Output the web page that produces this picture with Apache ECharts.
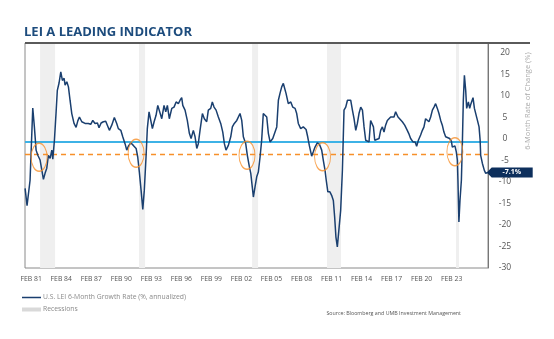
<!DOCTYPE html>
<html><head><meta charset="utf-8">
<script src="https://cdn.jsdelivr.net/npm/echarts@6/dist/echarts.min.js"></script>
<style>html,body{margin:0;padding:0;background:#fff}#c{width:554px;height:339px}</style>
</head><body><div id="c"></div>
<script>
// Decimal-year dates and U.S. LEI 6-month annualized growth (%)
const dates = [1980.11,1980.29,1980.57,1980.82,1980.97,1981.13,1981.29,1981.50,1981.66,1981.81,1981.96,1982.12,1982.27,1982.43,1982.59,1982.68,1982.83,1982.98,1983.10,1983.26,1983.42,1983.57,1983.73,1983.82,1983.98,1984.13,1984.28,1984.44,1984.65,1984.84,1985.00,1985.15,1985.37,1985.67,1985.98,1986.20,1986.39,1986.60,1986.82,1986.97,1987.16,1987.37,1987.59,1987.74,1987.93,1988.15,1988.39,1988.61,1988.76,1988.99,1989.17,1989.38,1989.54,1989.69,1989.91,1990.15,1990.41,1990.56,1990.71,1990.87,1991.03,1991.17,1991.33,1991.45,1991.61,1991.77,1991.92,1992.08,1992.26,1992.42,1992.57,1992.79,1993.00,1993.16,1993.31,1993.49,1993.72,1993.93,1994.12,1994.33,1994.49,1994.64,1994.74,1994.95,1995.16,1995.35,1995.51,1995.72,1995.88,1996.04,1996.18,1996.34,1996.56,1996.74,1996.96,1997.11,1997.33,1997.48,1997.64,1997.83,1998.04,1998.26,1998.45,1998.60,1998.75,1998.97,1999.19,1999.34,1999.52,1999.75,1999.89,2000.05,2000.21,2000.36,2000.58,2000.73,2000.92,2001.05,2001.19,2001.29,2001.44,2001.60,2001.75,2001.91,2002.06,2002.21,2002.37,2002.53,2002.68,2002.84,2003.09,2003.23,2003.46,2003.61,2003.76,2003.92,2004.07,2004.16,2004.32,2004.53,2004.76,2004.94,2005.16,2005.31,2005.46,2005.68,2005.92,2006.18,2006.33,2006.48,2006.70,2006.85,2007.01,2007.22,2007.41,2007.63,2007.78,2007.94,2008.05,2008.20,2008.39,2008.55,2008.71,2008.83,2008.95,2009.08,2009.23,2009.39,2009.55,2009.70,2009.86,2010.02,2010.16,2010.32,2010.48,2010.63,2010.79,2010.94,2011.09,2011.25,2011.41,2011.56,2011.71,2011.87,2012.02,2012.17,2012.27,2012.43,2012.55,2012.73,2012.95,2013.10,2013.26,2013.41,2013.56,2013.72,2013.87,2014.03,2014.19,2014.34,2014.49,2014.59,2014.71,2014.89,2015.11,2015.33,2015.57,2015.70,2015.88,2016.10,2016.30,2016.44,2016.60,2016.81,2016.97,2017.12,2017.27,2017.43,2017.58,2017.74,2017.90,2018.05,2018.20,2018.36,2018.51,2018.67,2018.82,2018.97,2019.13,2019.29,2019.50,2019.66,2019.75,2019.90,2019.99,2020.12,2020.22,2020.27,2020.36,2020.46,2020.59,2020.68,2020.77,2020.87,2020.99,2021.08,2021.24,2021.36,2021.48,2021.67,2021.80,2021.92,2022.08,2022.23,2022.33,2022.38,2022.54,2022.72,2022.85,2023.03];
const leiValues = [-11.5,-15.5,-9.6,7.2,2.8,-2.6,-3.8,-4.9,-4.5,-9.4,-8.0,-6.8,-3.8,-4.5,-2.6,-4.7,-0.3,6.0,11.3,13.0,15.6,13.6,14.1,12.5,13.3,12.1,9.0,5.9,3.6,2.7,4.2,5.1,4.0,3.6,3.6,3.4,4.3,3.6,3.7,2.6,3.7,4.0,4.1,3.2,2.0,3.2,5.0,3.6,2.4,2.0,0.5,-1.1,-2.6,-1.7,-0.9,-1.5,-2.2,-4.2,-7.7,-11.9,-16.4,-11.9,-4.2,2.4,6.3,4.3,2.4,4.0,5.5,7.8,7.4,4.7,7.8,6.3,7.8,4.7,7.1,7.4,8.6,8.2,9.0,9.6,7.8,6.7,4.3,1.3,0.1,2.0,0.5,-2.2,-1.1,2.0,5.9,4.7,4.0,6.7,7.1,8.6,7.4,6.7,5.1,3.6,1.6,-1.1,-2.6,-1.5,0.5,2.8,3.6,4.3,4.3,5.9,4.3,0.5,-1.1,-3.8,-6.5,-8.0,-11.2,-13.5,-11.2,-8.8,-7.7,-4.2,-0.3,5.9,6.3,5.1,1.3,-0.7,0.1,-0.3,2.8,9.0,10.6,12.1,12.9,13.3,10.6,8.2,8.6,7.4,7.1,5.9,3.6,2.4,2.8,2.2,0.5,-1.5,-4.0,-3.0,-1.9,-0.9,-1.2,-2.6,-5.0,-7.3,-9.6,-12.3,-12.3,-13.1,-14.3,-18.1,-22.8,-25.1,-24.7,-16.6,-7.3,6.7,7.4,9.0,9.4,9.0,6.7,4.7,2.0,3.6,5.9,7.4,6.7,2.8,-0.3,0.1,-0.7,4.3,4.7,2.8,-0.3,-0.7,0.1,2.0,2.8,1.6,3.2,4.3,4.7,5.1,5.5,5.1,6.3,6.7,5.1,4.7,4.0,3.2,2.0,1.3,0.1,-0.7,-0.7,-1.7,-0.3,0.9,2.0,2.8,4.7,5.1,4.0,5.1,6.7,7.4,8.2,7.1,5.9,4.3,3.2,1.6,0.5,0.1,0.1,-0.5,-1.9,-2.2,-1.6,-3.0,-5.0,-9.6,-19.3,-14.3,-9.6,-1.1,9.0,14.8,11.3,7.1,8.6,7.1,8.2,9.6,7.1,6.7,4.3,2.8,-0.3,-3.8,-5.7,-7.3,-8.0,-7.8];
const recessionStarts = [1981.50, 1990.68, 2001.17, 2008.12, 2020.09];
const recessionEnds   = [1982.89, 1991.24, 2001.73, 2009.42, 2020.37];
const xTickLabels = ['FEB 81','FEB 84','FEB 87','FEB 90','FEB 93','FEB 96','FEB 99','FEB 02','FEB 05','FEB 08','FEB 11','FEB 14','FEB 17','FEB 20','FEB 23'];
const blueLevel = -0.7;
const orangeLevel = -3.5;
const circleDates  = [1981.41, 1990.41, 2000.70, 2007.71, 2019.99];
const circleValues = [-4.26, -3.33, -3.79, -4.14, -2.98];
const lastLabel = '-7.1%';

const chart = echarts.init(document.getElementById('c'), null, {renderer:'canvas'});
const lineName = 'U.S. LEI 6-Month Growth Rate (%, annualized)';
const FONT = 'Open Sans';
const ELLIPSE = 'path://M0,-1 C0.552,-1 1,-0.552 1,0 C1,0.552 0.552,1 0,1 C-0.552,1 -1,0.552 -1,0 C-1,-0.552 -0.552,-1 0,-1 Z';
const THIN_BAR = 'path://M0,0 L19,0 L19,1.6 L0,1.6 Z M0,-1.2 L0.001,-1.2 L0.001,-1.199 Z M0,2.8 L0.001,2.8 L0.001,2.801 Z';
const option = {
  animation: false,
  title: {text:'LEI A LEADING INDICATOR', left: 19, top: 21,
    textStyle:{fontFamily: FONT, fontSize: 13, fontWeight: 'bold', color:'#1d4c7d'}},
  grid: {left: 25, top: 43, width: 463, height: 225, show: true, borderColor:'#8a8a8a', borderWidth: 1, backgroundColor:'transparent'},
  legend: {orient:'vertical', left: 17, top: 289, itemWidth: 19, itemHeight: 4, itemGap: 5,
    textStyle:{fontFamily: FONT, fontSize: 6.8, color:'#8a8a8a', padding:[0,0,0,-3]},
    data:[{name: lineName, icon: THIN_BAR}, {name:'Recessions', icon:'rect'}]},
  xAxis: [
    {type:'value', min: 1980.1, max: 2023.06, show: false},
    {type:'value', min: -0.206, max: 15.21, position:'bottom',
      axisLine:{show:false, onZero:false}, axisTick:{show:false}, splitLine:{show:false},
      axisLabel:{customValues: xTickLabels.map((_, i) => i), formatter: v => xTickLabels[Math.round(v)] || '',
        fontFamily: FONT, fontSize: 6.8, color:'#555', margin: 8}}
  ],
  yAxis: {type:'value', position:'right', min: -30, max: 22.3, interval: 5,
    axisLine:{show:true, onZero:false, lineStyle:{color:'#777', width:1}}, axisTick:{show:false}, splitLine:{show:false},
    axisLabel:{fontFamily: FONT, fontSize: 8.5, color:'#555', align:'center', margin: 17, showMaxLabel: false}},
  series: [
    {name:'Recessions', type:'line', xAxisIndex:0, data: [], symbol:'none', itemStyle:{color:'#d9d9d9'}, lineStyle:{color:'#d9d9d9'}, z: 1,
      markArea:{silent:true, itemStyle:{color:'#efefef'},
        data: recessionStarts.map((s, i) => [{xAxis: s}, {xAxis: recessionEnds[i]}])}},
    {name: lineName, type:'line', xAxisIndex:0, symbol:'none', showSymbol:false, z: 5,
      data: dates.map((d, i) => [d, leiValues[i]]),
      lineStyle:{color:'#1a3f6f', width:1.5}, itemStyle:{color:'#1a3f6f'},
      markLine:{silent:true, symbol:'none', label:{show:false},
        data:[
          {yAxis: blueLevel, lineStyle:{color:'#3db2e6', width:2, type:'solid'}},
          {yAxis: orangeLevel, lineStyle:{color:'#f7902a', width:1.3, type:[5,4]}}
        ]},
      markPoint:{silent:true,
        data:[{coord:[dates[dates.length-1], leiValues[leiValues.length-1]]}],
        symbol:'path://M0,5 L5,0 L46,0 L46,10 L5,10 Z', symbolSize:[46,10], symbolKeepAspect:false,
        symbolOffset:[22,0], itemStyle:{color:'#0d2f5c'},
        label:{show:true, formatter: lastLabel, color:'#fff', fontFamily: FONT, fontSize:7, fontWeight:'bold', offset:[2,0]}}},
    {name:'circles', type:'scatter', xAxisIndex:0, z: 6,
      data: circleDates.map((d, i) => [d, circleValues[i]]),
      symbol: ELLIPSE, symbolSize:[16,28], symbolKeepAspect:false,
      itemStyle:{color:'rgba(0,0,0,0)', borderColor:'#f7902a', borderWidth:1.2}}
  ],
  graphic: [
    {type:'line', shape:{x1:25, y1:43, x2:530, y2:43}, style:{stroke:'#5a5a5a', lineWidth:2}, z: 10},
    {type:'text', x: 528, y: 101, rotation: Math.PI/2,
      style:{text:'6-Month Rate of Change (%)', fill:'#aaa', font:'7.5px "Open Sans"', textAlign:'center', textVerticalAlign:'middle'}},
    {type:'text', x: 461, y: 313,
      style:{text:'Source: Bloomberg and UMB Investment Management', fill:'#555', font:'5.3px "Open Sans"', textAlign:'right', textVerticalAlign:'middle'}}
  ]
};
chart.setOption(option);
</script></body></html>
